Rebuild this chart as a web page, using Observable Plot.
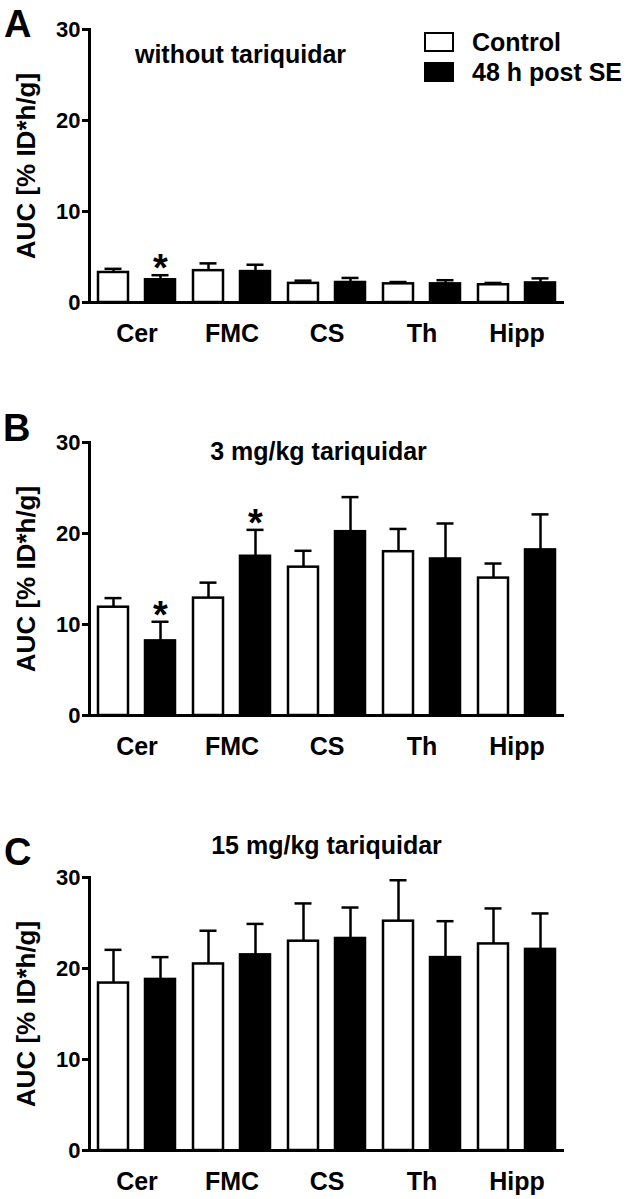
<!DOCTYPE html>
<html>
<head>
<meta charset="utf-8">
<script src="https://cdn.jsdelivr.net/npm/d3@7"></script>
<script src="https://cdn.jsdelivr.net/npm/@observablehq/plot@0.6"></script>
<style>
  html, body { margin: 0; padding: 0; background: #fff; }
  #page { position: relative; width: 630px; height: 1199px; overflow: hidden;
          font-family: 'Liberation Sans', Arial, sans-serif; font-weight: bold; color: #000; }
  .panel { position: absolute; left: 0; }
  .letter { position: absolute; font-size: 38px; line-height: 38px; }
  .swatch { position: absolute; width: 30px; height: 20px; box-sizing: border-box; border: 2.5px solid #000; }
  .leglabel { position: absolute; font-size: 25px; line-height: 25px; white-space: nowrap; }
</style>
</head>
<body>
<div id="page"></div>
<script>
// ---- data ----
const regions = ["Cer", "FMC", "CS", "Th", "Hipp"];
const conditions = ["Control", "48 h post SE"];
const yTicks = [0, 10, 20, 30];
const yLabel = "AUC [% ID*h/g]";

const titleA = "without tariquidar";
const controlA = [3.3, 3.5, 2.1, 2.05, 1.95];
const controlErrA = [0.4, 0.8, 0.3, 0.2, 0.2];
const seA = [2.5, 3.4, 2.2, 2.05, 2.15];
const seErrA = [0.5, 0.75, 0.5, 0.4, 0.5];
const seSigA = [true, false, false, false, false];

const titleB = "3 mg/kg tariquidar";
const controlB = [11.9, 12.9, 16.3, 18.0, 15.1];
const controlErrB = [1.0, 1.7, 1.8, 2.5, 1.6];
const seB = [8.2, 17.5, 20.2, 17.2, 18.2];
const seErrB = [2.1, 2.9, 3.8, 3.9, 3.9];
const seSigB = [true, true, false, false, false];

const titleC = "15 mg/kg tariquidar";
const controlC = [18.4, 20.5, 23.0, 25.2, 22.7];
const controlErrC = [3.65, 3.65, 4.15, 4.5, 3.9];
const seC = [18.8, 21.5, 23.3, 21.2, 22.1];
const seErrC = [2.45, 3.4, 3.4, 4.0, 3.95];
const seSigC = [false, false, false, false, false];

function rows(ctrl, ctrlErr, se, seErr, sig) {
  return regions.flatMap((r, i) => [
    {region: r, cond: conditions[0], v: ctrl[i], e: ctrlErr[i], sig: false},
    {region: r, cond: conditions[1], v: se[i], e: seErr[i], sig: sig[i]}
  ]);
}

function panel({data, title, top, height, marginTop, marginBottom, titleDx, titleDy}) {
  const chart = Plot.plot({
    width: 630,
    height,
    marginLeft: 88,
    marginRight: 65,
    marginTop,
    marginBottom,
    style: {fontFamily: "'Liberation Sans', Arial, sans-serif", fontWeight: "bold", fontSize: "22px", color: "#000", background: "transparent", overflow: "visible"},
    fx: {domain: regions, paddingInner: 0, paddingOuter: 0},
    x: {domain: conditions, paddingInner: 0.368, paddingOuter: 0.188, axis: null},
    y: {domain: [0, 30], axis: null},
    color: {domain: conditions, range: ["#ffffff", "#000000"]},
    marks: [
      Plot.ruleX(data, {fx: "region", x: "cond", y1: "v", y2: d => d.v + d.e, stroke: "#000", strokeWidth: 2.5}),
      Plot.tickY(data, {fx: "region", x: "cond", y: d => d.v + d.e, stroke: "#000", strokeWidth: 2.5, insetLeft: 6.5, insetRight: 6.5}),
      Plot.barY(data, {fx: "region", x: "cond", y: "v", fill: "cond", stroke: "#000", strokeWidth: 2.5}),
      Plot.text(data.filter(d => d.sig), {fx: "region", x: "cond", y: d => d.v + d.e, text: () => "*", fontSize: 38, lineAnchor: "bottom", dy: 6, fill: "#000"}),
      Plot.ruleY([0], {stroke: "#000", strokeWidth: 3}),
      Plot.frame({anchor: "left", facetAnchor: "left", stroke: "#000", strokeWidth: 3}),
      Plot.axisY({ticks: yTicks, tickSize: 7, tickPadding: 2, strokeWidth: 3, fontSize: 22, label: null, facetAnchor: "left"}),
      Plot.axisFx({anchor: "bottom", tickSize: 0, tickPadding: 22, fontSize: 25, label: null}),
      Plot.text([yLabel], {frameAnchor: "left", facetAnchor: "left", textAnchor: "middle", lineAnchor: "middle", rotate: -90, dx: -63, fontSize: 26, fill: "#000"}),
      Plot.text([title], {frameAnchor: "top-left", facetAnchor: "left", textAnchor: "middle", lineAnchor: "top", dx: titleDx, dy: titleDy, fontSize: 25, fill: "#000"})
    ]
  });
  const div = document.createElement("div");
  div.className = "panel";
  div.style.top = top + "px";
  div.appendChild(chart);
  document.getElementById("page").appendChild(div);
}

panel({data: rows(controlA, controlErrA, seA, seErrA, seSigA), title: titleA, top: 0, height: 400, marginTop: 29, marginBottom: 98, titleDx: 151, titleDy: 16});
panel({data: rows(controlB, controlErrB, seB, seErrB, seSigB), title: titleB, top: 400, height: 400, marginTop: 42, marginBottom: 85, titleDx: 229, titleDy: 0});
panel({data: rows(controlC, controlErrC, seC, seErrC, seSigC), title: titleC, top: 800, height: 399, marginTop: 77, marginBottom: 49, titleDx: 237, titleDy: -41});

// panel letters
const page = document.getElementById("page");
[["A", 4, 5], ["B", 3, 409], ["C", 4, 833]].forEach(([t, x, y]) => {
  const d = document.createElement("div");
  d.className = "letter"; d.textContent = t;
  d.style.left = x + "px"; d.style.top = y + "px";
  page.appendChild(d);
});

// legend (panel A)
conditions.forEach((c, i) => {
  const sw = document.createElement("div");
  sw.className = "swatch";
  sw.style.left = "424px"; sw.style.top = (32 + i * 30) + "px";
  sw.style.background = i === 0 ? "#fff" : "#000";
  page.appendChild(sw);
  const lb = document.createElement("div");
  lb.className = "leglabel"; lb.textContent = c;
  lb.style.left = "472px"; lb.style.top = (30 + i * 30) + "px";
  page.appendChild(lb);
});
</script>
</body>
</html>
